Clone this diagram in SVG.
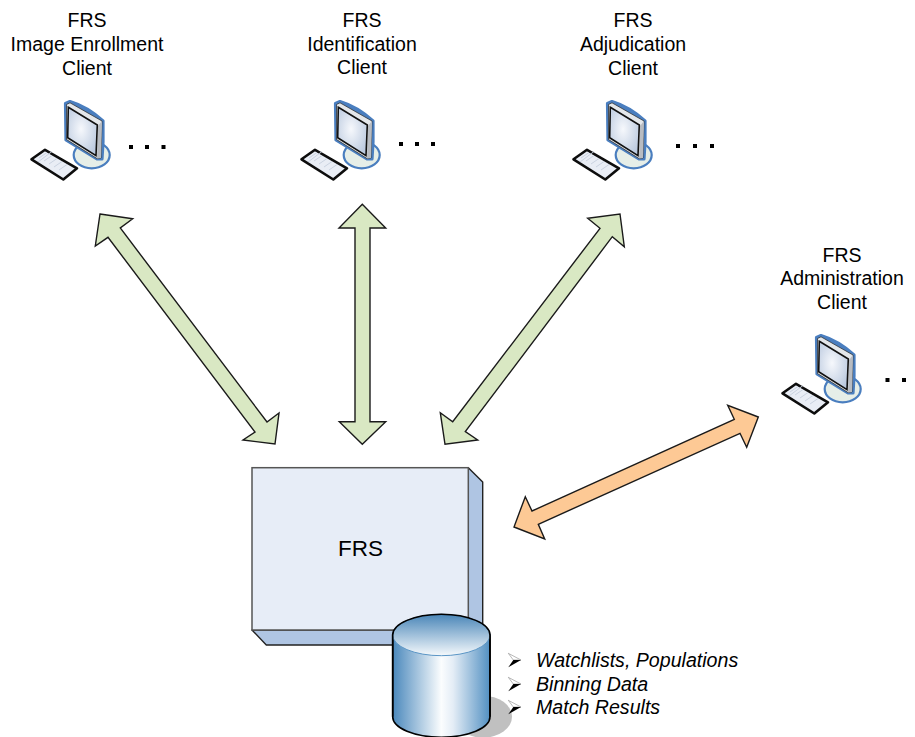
<svg xmlns="http://www.w3.org/2000/svg" xmlns:xlink="http://www.w3.org/1999/xlink" width="915" height="737" viewBox="0 0 915 737">
<style>
text{font-family:"Liberation Sans",Arial,sans-serif;font-size:19.5px;fill:#000}
.c{text-anchor:middle}
.i{font-style:italic;font-size:19.6px}
.g{fill:#d9e8c3;stroke:#1a1a1a;stroke-width:1.4;stroke-linejoin:miter}
.o{fill:#fdc995;stroke:#1a1a1a;stroke-width:1.4}
.side{fill:#afc5e3;stroke:#222;stroke-width:1.4;stroke-linejoin:round}
.d{fill:#000}
</style>
<defs>
<radialGradient id="scr" cx="45%" cy="45%" r="65%"><stop offset="0" stop-color="#f6f8fc"/><stop offset="1" stop-color="#b9c8de"/></radialGradient>
<linearGradient id="body" x1="0" x2="1" y1="0" y2="0"><stop offset="0" stop-color="#4a88bc"/><stop offset=".5" stop-color="#fbfdfe"/><stop offset=".62" stop-color="#e4edf6"/><stop offset="1" stop-color="#5290c2"/></linearGradient>
<linearGradient id="lid" x1="0" x2="0" y1="0" y2="1"><stop offset="0" stop-color="#4a86b8"/><stop offset="1" stop-color="#f5f9fc"/></linearGradient>
<g id="pc">
<ellipse cx="71.700" cy="65" rx="18" ry="13.300" fill="#e6eee8" stroke="#4a7ebf" stroke-width="2.200"/>
<path d="M45.500 13.500 L50 11.500 Q68 17 83 31 L83 52 L82 69 L77 69 L46 50 Z" fill="#4a7ebf" stroke="#4a7ebf" stroke-width="3.200" stroke-linejoin="round"/>
<path d="M46.500 14.500 L50 12.800 L82 31 L81 68 L77 68.500 L46.500 49.500 Z" fill="#e4e7ea" stroke="#222" stroke-width=".7"/>
<path d="M78 36 L82 31 L81 68 L77 68.500 Z" fill="#b8bcc2"/>
<path d="M48.300 17.300 L77.300 35 L76 65.700 L47.700 47.700 Z" fill="url(#scr)" stroke="#111" stroke-width="1.600"/>
<path d="M11.500 69.300 L25 59.800 L57 78.300 L43.300 89.500 Z" fill="#e9edf5" stroke="#0d0d0d" stroke-width="2.600" stroke-linejoin="round"/>
<path d="M19 68 L27 62.500 M24 71 L32 65.500 M29 74 L37 68.500 M34 77 L42 71.500 M39 80 L47 74.500 M18 72 L32 61.500" stroke="#c6cfde" stroke-width=".9" fill="none"/>
</g>
</defs>

<g id="connectors">
<polygon class="g" points="100,214 132.700,218.700 120.300,228 267,422 279,413 275,444 243,440 255,432 108,237.300 95.300,246"/>
<polygon class="g" points="362.300,204.300 385.700,228 370,228 370,421.700 385.700,421.700 362.300,444.300 339.300,421.700 355,421.700 355,228 339,228"/>
<polygon class="g" points="620,214 624.300,246.700 612.300,236.700 465.300,431.700 477.700,440 445,444.300 440.300,412.700 452.700,421.700 600,228.300 587.700,218.300"/>
<polygon class="o" points="758.300,417 746.700,447.300 740,433.300 538.300,524.300 544.700,539 514,527 525.300,496.700 532,511 734.300,419.300 727.700,405.300"/>
</g>

<g id="client-enroll">
<text class="c" x="87" y="27">FRS</text><text class="c" x="87" y="51">Image Enrollment</text><text class="c" x="87" y="75">Client</text>
<use xlink:href="#pc" href="#pc" transform="translate(20,90)"/>
<rect class="d" x="129" y="145" width="4" height="4"/><rect class="d" x="145" y="145" width="4" height="4"/><rect class="d" x="161.500" y="145" width="4" height="4"/>
</g>
<g id="client-ident">
<text class="c" x="362" y="26.500">FRS</text><text class="c" x="362" y="50.500">Identification</text><text class="c" x="362" y="74">Client</text>
<use xlink:href="#pc" href="#pc" transform="translate(290,90)"/>
<rect class="d" x="399" y="142" width="4" height="4"/><rect class="d" x="415" y="142" width="4" height="4"/><rect class="d" x="431" y="142" width="4" height="4"/>
</g>
<g id="client-adjud">
<text class="c" x="633" y="27">FRS</text><text class="c" x="633" y="51">Adjudication</text><text class="c" x="633" y="75">Client</text>
<use xlink:href="#pc" href="#pc" transform="translate(562,90)"/>
<rect class="d" x="676" y="144" width="4" height="4"/><rect class="d" x="693" y="144" width="4" height="4"/><rect class="d" x="710" y="144" width="4" height="4"/>
</g>
<g id="client-admin">
<text class="c" x="842" y="262">FRS</text><text class="c" x="842" y="285">Administration</text><text class="c" x="842" y="309">Client</text>
<use xlink:href="#pc" href="#pc" transform="translate(771,324)"/>
<rect class="d" x="885.500" y="378" width="4" height="4"/><rect class="d" x="902" y="378" width="4" height="4"/>
</g>

<g id="frs">
<polygon class="side" points="468.300,467.700 482.700,482 482.700,645 468.300,630"/>
<polygon class="side" points="252,630 468.300,630 482.700,645 266.300,645"/>
<rect x="252" y="467.700" width="216.300" height="162.300" fill="#e7edf7" stroke="#555" stroke-width="1.500"/>
<text class="c" x="360.500" y="556" style="font-size:22.500px">FRS</text>
</g>

<g id="database">
<ellipse cx="483" cy="716.700" rx="29" ry="21" fill="#c0c0c0"/>
<path d="M392.700 635 L392.700 716.700 A48.650 20.500 0 0 0 490 716.700 L490 635 Z" fill="url(#body)" stroke="#000" stroke-width="1.600"/>
<ellipse cx="441.350" cy="635" rx="48.650" ry="20.700" fill="url(#lid)" stroke="#5a95c5" stroke-width="1"/>
<path d="M392.700 635 A48.650 20.700 0 0 1 490 635" fill="none" stroke="#000" stroke-width="1.600"/>
<path d="M392.700 635 L392.700 716.700 M490 635 L490 716.700" stroke="#000" stroke-width="1.600"/>
</g>

<g id="list">
<g fill="#fff" stroke="#888" stroke-width=".6"><path d="M508.300 653.300 L521 660 L513.300 660 Z"/><path d="M508.300 677.300 L521 684 L513.300 684 Z"/><path d="M508.300 700.300 L521 707 L513.300 707 Z"/></g>
<g fill="#000"><path d="M508.300 667.300 L521 660 L513.300 660 Z"/><path d="M508.300 691.300 L521 684 L513.300 684 Z"/><path d="M508.300 714.300 L521 707 L513.300 707 Z"/></g>
<text class="i" x="536" y="667">Watchlists, Populations</text>
<text class="i" x="536" y="691">Binning Data</text>
<text class="i" x="536" y="714">Match Results</text>
</g>
</svg>
